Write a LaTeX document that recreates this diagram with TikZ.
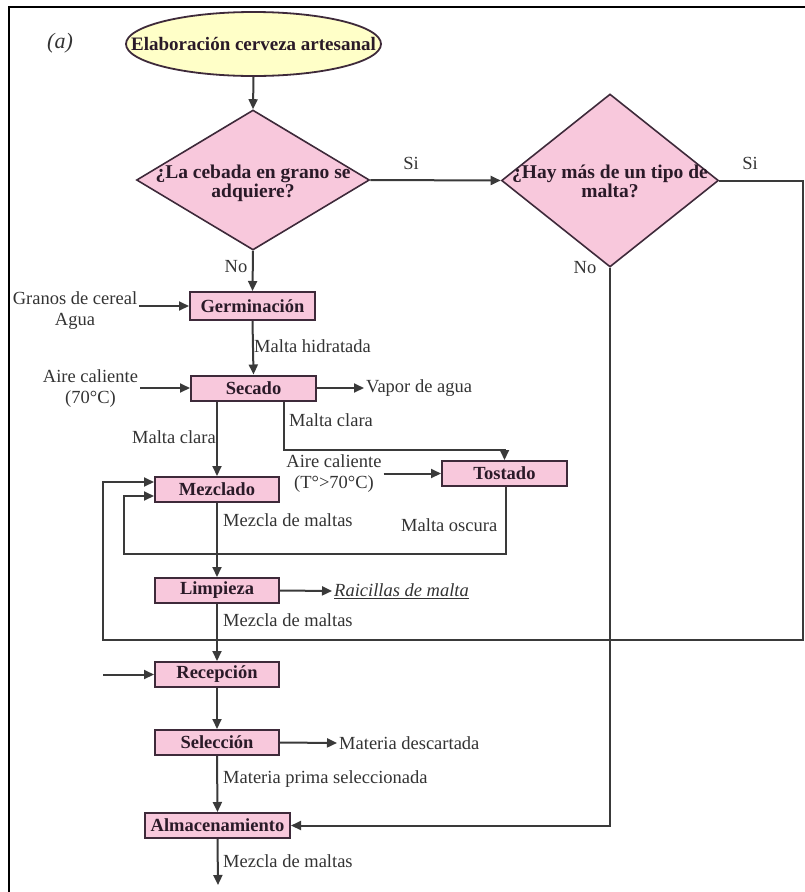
\documentclass[tikz,border=0pt]{standalone}
\usepackage{fontspec}
\setmainfont{Liberation Serif}
\usetikzlibrary{shapes.geometric,arrows.meta}

\definecolor{boxfill}{HTML}{F8C8DC}
\definecolor{boxline}{HTML}{3E2A3A}
\definecolor{startfill}{HTML}{FFFFC8}
\definecolor{wire}{HTML}{3A3A3A}
\definecolor{ink}{HTML}{333333}
\definecolor{boldink}{HTML}{2A1A28}

\begin{document}
\begin{tikzpicture}[x=1pt,y=-1pt,
  every node/.style={inner sep=2pt},
  txt/.style={font=\fontsize{18.5}{21}\selectfont, text=ink, align=center},
  stage/.style={draw=boxline, line width=2pt, fill=boxfill, rectangle,
    minimum height=25pt, inner sep=0pt,
    font=\fontsize{18.5}{21}\selectfont\bfseries, text=boldink},
  decision/.style={draw=boxline, line width=1.6pt, fill=boxfill, diamond, inner sep=0pt,
    font=\fontsize{19.5}{20}\selectfont\bfseries, text=boldink},
  start/.style={draw=boxline, line width=1.8pt, fill=startfill, ellipse, inner sep=0pt,
    font=\fontsize{19}{21}\selectfont\bfseries, text=boldink},
  wire/.style={draw=wire, line width=2pt},
  arr/.style={wire, -{Triangle[length=10pt,width=9pt]}},
]
\useasboundingbox (0,0) rectangle (805,892);

% frame
\draw[line width=2pt] (9,892) -- (9,7) -- (805,7);

\node[font=\fontsize{22}{24}\selectfont\itshape, text=ink] (tag) at (60,43) {(a)};

% start and decisions
\node[start, minimum width=255pt, minimum height=64pt] (inicio) at (253.5,44)
  {\makebox[0pt]{Elaboración cerveza artesanal}};
\node[decision, minimum width=233pt, minimum height=140pt] (d1) at (253,180)
  {\smash{\makebox[0pt]{\raisebox{-9pt}{\begin{tabular}{@{}c@{}}¿La cebada en grano se\\[-1pt]adquiere?\end{tabular}}}}};
\node[decision, minimum width=217pt, minimum height=173pt] (d2) at (610,180.5)
  {\smash{\makebox[0pt]{\raisebox{-9pt}{\begin{tabular}{@{}c@{}}¿Hay más de un tipo de\\[-1pt]malta?\end{tabular}}}}};

% process stages
\node[stage, minimum width=125pt, minimum height=28pt] (germ) at (252.5,306) {Germinación};
\node[stage, minimum width=125pt] (secado) at (253.5,388) {Secado};
\node[stage, minimum width=125pt] (tostado) at (504.5,473.5) {Tostado};
\node[stage, minimum width=124pt] (mezclado) at (217,489.5) {Mezclado};
\node[stage, minimum width=124pt] (limpieza) at (217,590.5) {Limpieza};
\node[stage, minimum width=124pt] (recepcion) at (217,674.5) {Recepción};
\node[stage, minimum width=124pt] (seleccion) at (217,742.5) {Selección};
\node[stage, minimum width=145pt] (almac) at (217.5,825.5) {Almacenamiento};

% inputs and outputs
\node[txt] (granos) at (75,311) {Granos de cereal\\Agua};
\node[txt] (aire1) at (90.5,388.5) {Aire caliente\\(70°C)};
\node[txt, anchor=west] (vapor) at (364,388) {Vapor de agua};
\node[txt] (aire2) at (334,473.5) {Aire caliente\\(T°>70°C)};
\node[txt, anchor=west] (raic) at (332,591) {\underline{\itshape Raicillas de malta}};
\node[txt, anchor=west] (desc) at (337,743) {Materia descartada};

% stream labels
\node[txt] (si1) at (411,163) {Si};
\node[txt] (si2) at (750,163) {Si};
\node[txt] (no1) at (236,267) {No};
\node[txt] (no2) at (585,268) {No};
\node[txt, anchor=west] (lhid) at (252,346) {Malta hidratada};
\node[txt, anchor=east] (lclara1) at (218,437) {Malta clara};
\node[txt, anchor=west] (lclara2) at (287,420) {Malta clara};
\node[txt, anchor=west] (loscura) at (399,525) {Malta oscura};
\node[txt, anchor=west] (lmez1) at (221,520) {Mezcla de maltas};
\node[txt, anchor=west] (lmez2) at (221,620) {Mezcla de maltas};
\node[txt, anchor=west] (lprima) at (221,779) {Materia prima seleccionada};
\node[txt, anchor=west] (lmez3) at (221,861) {Mezcla de maltas};

% free ends and bends
\coordinate (loopR) at (803,640);
\coordinate (loopL) at (103,640);
\coordinate (darkL) at (124,554);
\coordinate (recin) at (103,674.5);
\coordinate (salida) at (218,885);

% connectors
\draw[arr] (inicio.south) -- (d1.north);
\draw[arr] (d1.east) -- (d2.west);
\draw[arr] (d1.south) -- (germ.north);
\draw[arr] (granos.east |- germ.west) -- (germ.west);
\draw[arr] (germ.south) -- (secado.north);
\draw[arr] (aire1.east |- secado.west) -- (secado.west);
\draw[arr] (secado.east) -- (vapor.west);
\draw[arr] (secado.south -| mezclado.north) -- (mezclado.north);
\draw[arr] ([xshift=30.5pt]secado.south) -- ++(0,48) -| (tostado.north);
\draw[arr] (aire2.east |- tostado.west) -- (tostado.west);
\draw[arr] ([xshift=1.5pt]tostado.south) |- (darkL) |- ([yshift=-6.5pt]mezclado.west);
\draw[arr] (d2.east) -| (loopR) -- (loopL) |- ([yshift=7.5pt]mezclado.west);
\draw[arr] (mezclado.south) -- (limpieza.north);
\draw[arr] (limpieza.east) -- (raic.west);
\draw[arr] (limpieza.south) -- (recepcion.north);
\draw[arr] (recin) -- (recepcion.west);
\draw[arr] (recepcion.south) -- (seleccion.north);
\draw[arr] (seleccion.east) -- (desc.west);
\draw[arr] (seleccion.south) -- (almac.north);
\draw[arr] (d2.south) |- (almac.east);
\draw[arr] (almac.south) -- (salida);
\end{tikzpicture}
\end{document}
